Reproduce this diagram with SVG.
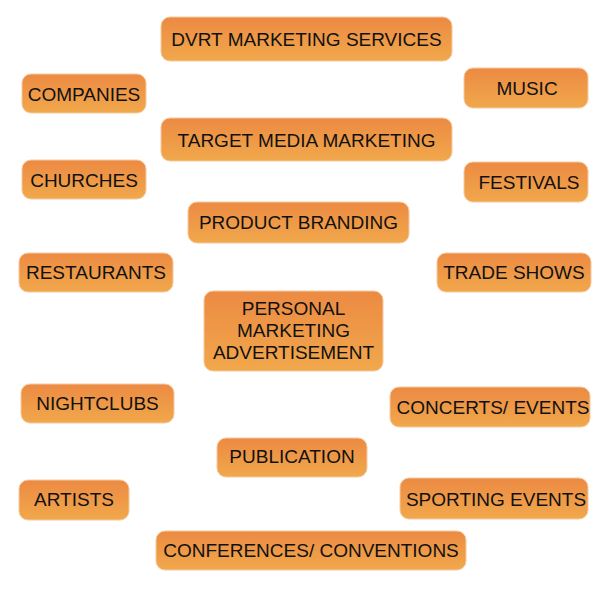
<svg xmlns="http://www.w3.org/2000/svg" width="609" height="590" viewBox="0 0 609 590">
<defs>
<linearGradient id="g" x1="0" y1="0" x2="0" y2="1">
<stop offset="0" stop-color="#EC8A43"/>
<stop offset="1" stop-color="#F1A84B"/>
</linearGradient>
<style>
.b{fill:url(#g);stroke:#F6C9A0;stroke-width:1}
.t{font-family:"Liberation Sans",Arial,sans-serif;font-size:19px;fill:#111;text-anchor:middle}
</style>
</defs>
<rect width="609" height="590" fill="#fff"/>
<g id="n1"><rect class="b" x="161" y="17" width="291" height="44" rx="9"/><text class="t" x="306.5" y="46">DVRT MARKETING SERVICES</text></g>
<g id="n2"><rect class="b" x="22" y="74" width="124" height="39" rx="9"/><text class="t" x="84" y="101">COMPANIES</text></g>
<g id="n3"><rect class="b" x="464" y="68" width="124" height="40" rx="9"/><text class="t" x="527" y="95">MUSIC</text></g>
<g id="n4"><rect class="b" x="161" y="118" width="291" height="43" rx="9"/><text class="t" x="306.5" y="147">TARGET MEDIA MARKETING</text></g>
<g id="n5"><rect class="b" x="22" y="160" width="124" height="39" rx="9"/><text class="t" x="84" y="187">CHURCHES</text></g>
<g id="n6"><rect class="b" x="464" y="162" width="124" height="40" rx="9"/><text class="t" x="529" y="189">FESTIVALS</text></g>
<g id="n7"><rect class="b" x="188" y="202" width="221" height="41" rx="9"/><text class="t" x="298.5" y="229">PRODUCT BRANDING</text></g>
<g id="n8"><rect class="b" x="19" y="253" width="154" height="39" rx="9"/><text class="t" x="96" y="279">RESTAURANTS</text></g>
<g id="n9"><rect class="b" x="437" y="253" width="154" height="39" rx="9"/><text class="t" x="514" y="279">TRADE SHOWS</text></g>
<g id="n10"><rect class="b" x="204" y="291" width="179" height="80" rx="9"/><text class="t" x="293.5" y="315">PERSONAL</text><text class="t" x="293.5" y="337">MARKETING</text><text class="t" x="293.5" y="359">ADVERTISEMENT</text></g>
<g id="n11"><rect class="b" x="21" y="384" width="153" height="39" rx="9"/><text class="t" x="97.5" y="410">NIGHTCLUBS</text></g>
<g id="n12"><rect class="b" x="390" y="387" width="200" height="40" rx="9"/><text class="t" x="493" y="414">CONCERTS/ EVENTS</text></g>
<g id="n13"><rect class="b" x="217" y="438" width="150" height="39" rx="9"/><text class="t" x="292" y="463">PUBLICATION</text></g>
<g id="n14"><rect class="b" x="19" y="480" width="110" height="40" rx="9"/><text class="t" x="74" y="506">ARTISTS</text></g>
<g id="n15"><rect class="b" x="400" y="478" width="188" height="41" rx="9"/><text class="t" x="496" y="506">SPORTING EVENTS</text></g>
<g id="n16"><rect class="b" x="156" y="531" width="310" height="39" rx="9"/><text class="t" x="311" y="557">CONFERENCES/ CONVENTIONS</text></g>
<g id="connectors"/>
</svg>
